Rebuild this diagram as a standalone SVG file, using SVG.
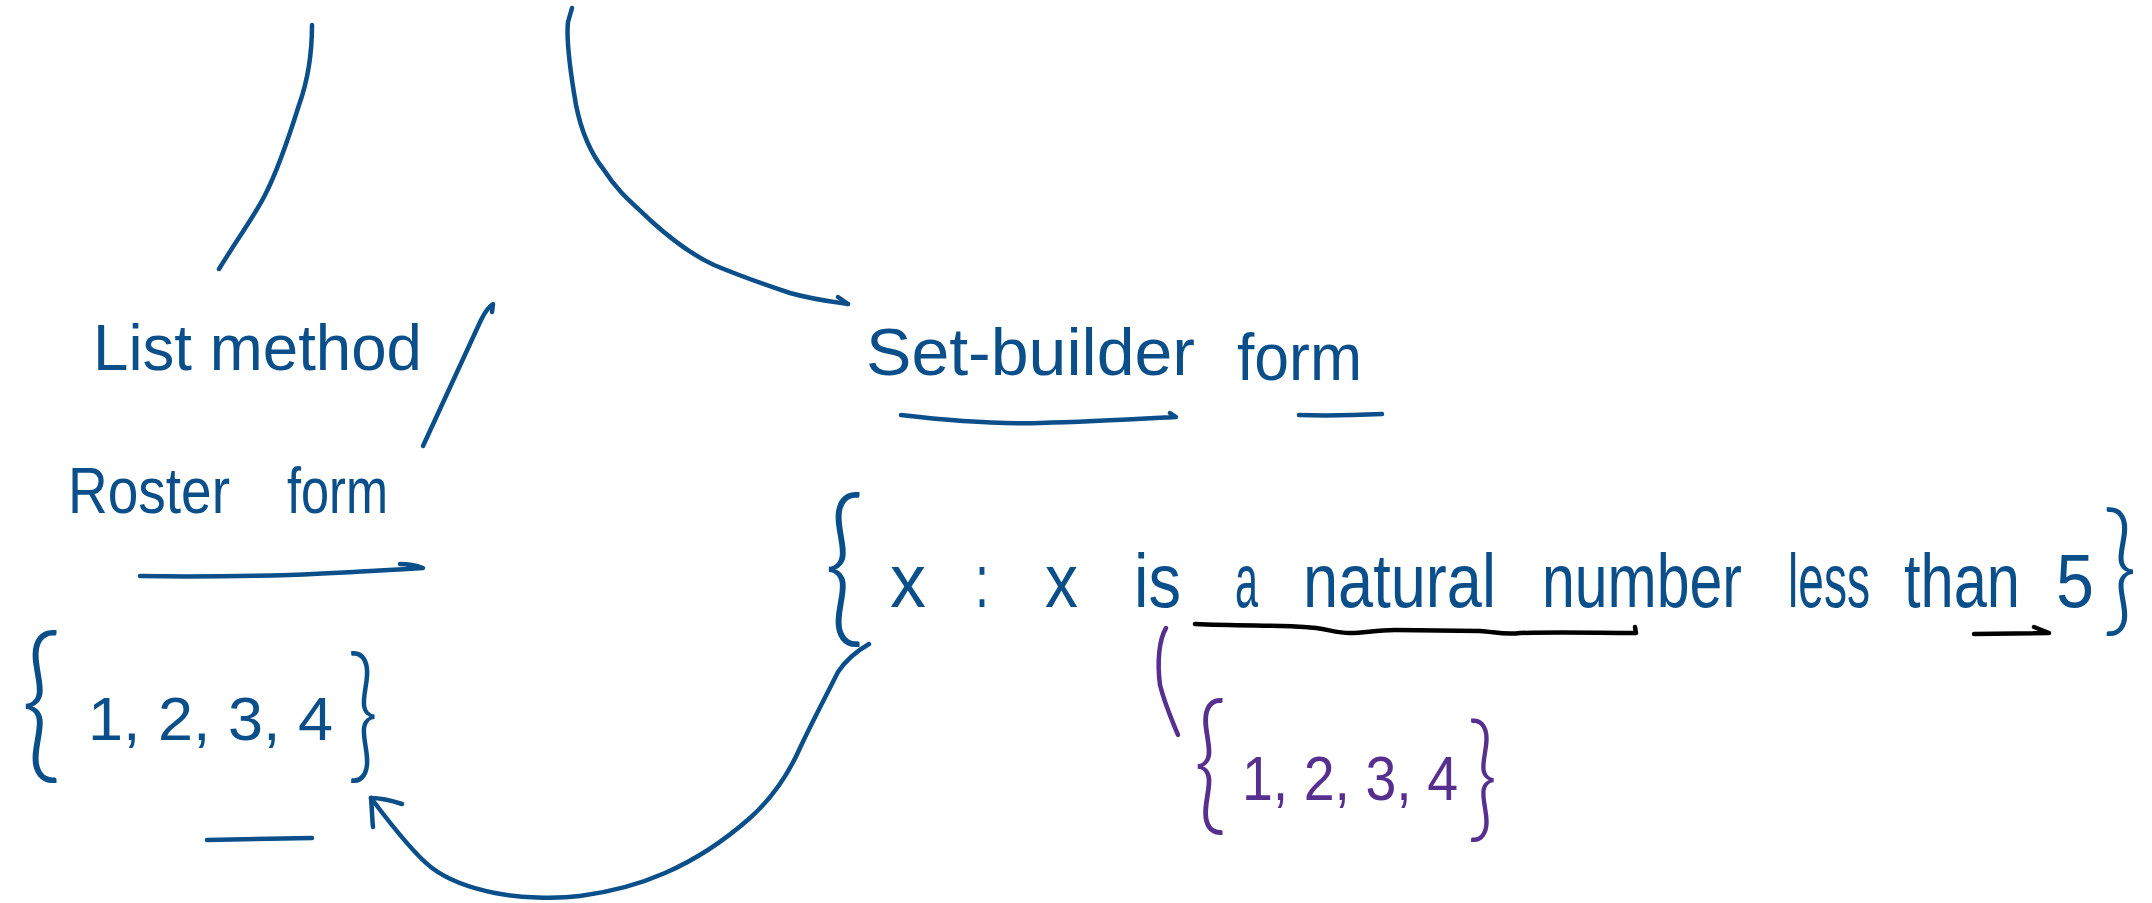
<svg xmlns="http://www.w3.org/2000/svg" width="2152" height="903" viewBox="0 0 2152 903">
<style>
.bg{fill:#ffffff}
.t{font-family:"Liberation Sans","DejaVu Sans",sans-serif;fill:#0a4e8a}
.p{font-family:"Liberation Sans","DejaVu Sans",sans-serif;fill:#57308f}
.br{font-family:"Lato","Inter","Noto Sans",sans-serif;font-weight:300}
.ln{fill:none;stroke:#0a4e8a;stroke-width:4.5;stroke-linecap:round;stroke-linejoin:round}
.lnp{fill:none;stroke:#57308f;stroke-width:4.5;stroke-linecap:round;stroke-linejoin:round}
.lnk{fill:none;stroke:#000000;stroke-width:4.5;stroke-linecap:round;stroke-linejoin:round}
</style>
<rect class="bg" x="0" y="0" width="2152" height="903"/>

<g id="connectors">
  <path class="ln" d="M312,25 C312,50 308,80 299,105 C288,140 278,170 265,195 C255,215 240,235 219,269"/>
  <path class="ln" d="M572,8 L568,22 C566,40 570,70 576,105 C582,135 592,155 604,170 C620,195 635,205 650,220 C672,240 692,255 714,265 C740,276 760,283 790,293 C815,300 835,302 848,304"/>
  <path class="ln" d="M838,297 L848,304"/>
  <path class="ln" d="M423,446 L481,320 C486,310 490,306 493,304 L492,312"/>
  <path class="ln" d="M869,644 C855,652 846,660 838,672 C825,698 812,722 800,748 C788,775 770,800 750,818 C725,840 695,860 665,873 C640,884 610,892 580,896 C555,899 520,898 495,893 C470,888 448,880 432,868 C415,855 395,830 371,798"/>
  <path class="ln" d="M402,804 C390,800 380,798 371,798 C372,808 372,818 373,827"/>
  <path class="lnk" d="M1195,624 C1240,626 1280,625 1305,627 C1325,628 1335,633 1350,633 C1365,633 1375,630 1395,630 L1480,631 C1495,632 1505,635 1520,633 C1560,632 1600,633 1636,633 L1635,627"/>
  <path class="lnk" d="M1974,634 L2049,633 L2034,627"/>
  <path class="lnp" d="M1166,628 C1159,640 1157,662 1160,685 C1165,705 1172,720 1178,735"/>
</g>

<g id="list-method">
  <text class="t" x="93" y="370" font-size="64" textLength="329" lengthAdjust="spacingAndGlyphs">List method</text>
</g>

<g id="roster-form">
  <text class="t" font-size="64" y="513"><tspan x="68" textLength="162" lengthAdjust="spacingAndGlyphs">Roster</tspan><tspan x="287" textLength="101" lengthAdjust="spacingAndGlyphs">form</tspan></text>
  <path class="ln" d="M140,576 C200,577 250,576 290,575 C340,573 390,570 423,568 C415,565 408,564 400,564"/>
</g>

<g id="roster-example">
  <text class="t br" x="20" y="760" font-size="172" textLength="42" lengthAdjust="spacingAndGlyphs">{</text>
  <text class="t" x="88" y="740" font-size="62" textLength="245" lengthAdjust="spacingAndGlyphs">1, 2, 3, 4</text>
  <text class="t br" x="347" y="763" font-size="149" textLength="32" lengthAdjust="spacingAndGlyphs">}</text>
  <path class="ln" d="M207,840 L312,838"/>
</g>

<g id="set-builder-form">
  <text class="t" font-size="66" y="375"><tspan x="866" textLength="329" lengthAdjust="spacingAndGlyphs">Set-builder</tspan><tspan x="1237" y="380" textLength="125" lengthAdjust="spacingAndGlyphs">form</tspan></text>
  <path class="ln" d="M901,415 C960,422 1000,424 1040,423 C1090,422 1140,419 1176,417 L1170,413"/>
  <path class="ln" d="M1299,415 C1330,416 1360,415 1382,414"/>
</g>

<g id="set-builder-example">
  <text class="t br" x="823" y="624" font-size="174" textLength="42" lengthAdjust="spacingAndGlyphs">{</text>
  <text class="t" font-size="76" y="607"><tspan x="890" textLength="36" lengthAdjust="spacingAndGlyphs">x</tspan><tspan x="975" textLength="14" lengthAdjust="spacingAndGlyphs">:</tspan><tspan x="1045" textLength="33" lengthAdjust="spacingAndGlyphs">x</tspan><tspan x="1134" textLength="47" lengthAdjust="spacingAndGlyphs">is</tspan><tspan x="1235" textLength="23" lengthAdjust="spacingAndGlyphs">a</tspan><tspan x="1303" textLength="193" lengthAdjust="spacingAndGlyphs">natural</tspan><tspan x="1542" textLength="200" lengthAdjust="spacingAndGlyphs">number</tspan><tspan x="1788" textLength="82" lengthAdjust="spacingAndGlyphs">less</tspan><tspan x="1904" textLength="116" lengthAdjust="spacingAndGlyphs">than</tspan><tspan x="2056" textLength="38" lengthAdjust="spacingAndGlyphs">5</tspan></text>
  <text class="t br" x="2102" y="617" font-size="144" textLength="36" lengthAdjust="spacingAndGlyphs">}</text>
</g>

<g id="natural-example">
  <text class="p br" x="1193" y="815" font-size="154" textLength="34" lengthAdjust="spacingAndGlyphs">{</text>
  <text class="p" x="1242" y="800" font-size="63" textLength="216" lengthAdjust="spacingAndGlyphs">1, 2, 3, 4</text>
  <text class="p br" x="1467" y="824" font-size="139" textLength="31" lengthAdjust="spacingAndGlyphs">}</text>
</g>
</svg>
